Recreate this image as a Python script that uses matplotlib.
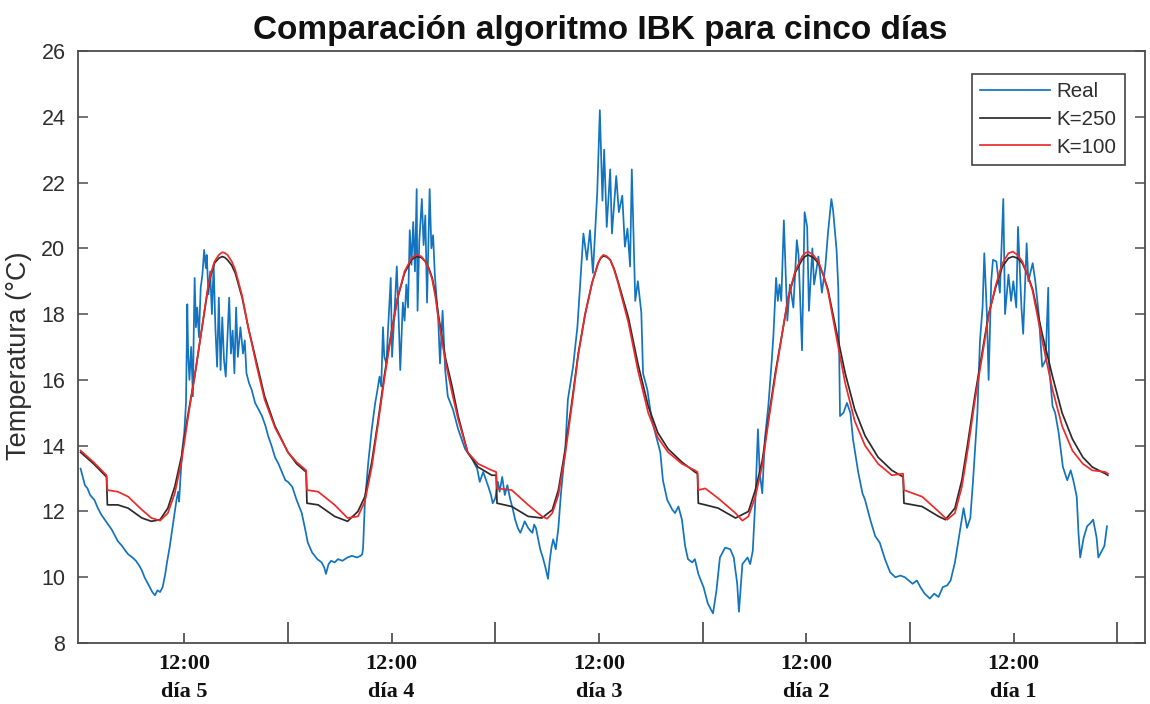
import matplotlib
matplotlib.use("Agg")
import matplotlib.pyplot as plt
from matplotlib.transforms import blended_transform_factory

# ---- texts ----
title = "Comparación algoritmo IBK para cinco días"
y_label = "Temperatura (°C)"
series_names = ["Real", "K=250", "K=100"]
noon_label = "12:00"
day_labels = ["día 5", "día 4", "día 3", "día 2", "día 1"]

# ---- axes ----
noon_hours = [12, 36, 60, 84, 108]
midnight_hours = [24, 48, 72, 96, 120]
y_ticks = [8, 10, 12, 14, 16, 18, 20, 22, 24, 26]

# ---- measured temperature (hour, °C) ----
real_points = [
    # day 5
    (0.0, 13.3), (0.2, 13.1), (0.5, 12.8), (0.8, 12.7), (1.1, 12.5), (1.6, 12.35), (2.0, 12.1),
    (2.4, 11.9), (2.8, 11.75), (3.2, 11.6), (3.6, 11.45), (4.0, 11.25), (4.3, 11.1), (4.8, 10.95),
    (5.2, 10.8), (5.5, 10.7), (6.0, 10.6), (6.4, 10.5), (6.8, 10.35), (7.1, 10.2), (7.4, 10.0),
    (7.7, 9.85), (8.0, 9.7), (8.3, 9.55), (8.6, 9.45), (8.9, 9.6), (9.2, 9.55), (9.5, 9.7),
    (9.8, 10.1), (10.0, 10.45), (10.3, 10.9), (10.6, 11.45), (10.9, 12.0), (11.1, 12.35),
    (11.3, 12.6), (11.4, 12.3), (11.6, 13.2), (11.8, 13.95), (12.0, 14.4), (12.2, 15.3),
    (12.35, 18.3), (12.45, 16.8), (12.6, 16.0), (12.8, 17.0), (13.0, 15.5), (13.1, 17.5),
    (13.2, 19.1), (13.35, 17.6), (13.5, 18.2), (13.7, 17.3), (13.9, 18.8), (14.1, 19.2),
    (14.3, 19.95), (14.5, 19.4), (14.6, 19.8), (14.8, 18.6), (15.0, 19.3), (15.2, 18.0),
    (15.4, 19.5), (15.6, 17.6), (15.8, 16.4), (16.0, 18.5), (16.2, 16.3), (16.4, 17.9),
    (16.6, 16.6), (16.8, 16.1), (17.0, 17.3), (17.2, 18.5), (17.4, 16.8), (17.6, 17.5),
    (17.8, 16.2), (18.0, 18.2), (18.2, 16.7), (18.5, 17.6), (18.8, 16.8), (19.0, 17.2),
    (19.2, 16.2), (19.5, 15.9), (19.8, 15.7), (20.2, 15.3), (20.6, 15.1), (21.0, 14.9),
    (21.4, 14.6), (21.7, 14.3), (22.1, 14.0), (22.5, 13.65), (22.9, 13.45), (23.3, 13.2),
    (23.7, 12.95),
    # day 4
    (24.0, 12.9), (24.5, 12.75), (25.0, 12.35), (25.6, 11.95), (26.0, 11.45), (26.3, 11.05),
    (26.8, 10.75), (27.4, 10.55), (27.9, 10.45), (28.2, 10.3), (28.4, 10.1), (28.7, 10.4),
    (29.0, 10.5), (29.4, 10.45), (29.8, 10.55), (30.3, 10.5), (30.9, 10.6), (31.4, 10.65),
    (32.0, 10.6), (32.4, 10.65), (32.6, 10.7), (32.7, 10.9), (32.9, 12.25), (33.3, 13.5),
    (33.7, 14.5), (34.1, 15.3), (34.3, 15.6), (34.6, 16.1), (34.8, 15.8), (35.0, 17.6),
    (35.15, 16.7), (35.4, 16.5), (35.6, 17.6), (35.9, 19.1), (36.05, 16.7), (36.3, 17.9),
    (36.6, 19.45), (36.8, 18.0), (37.0, 16.3), (37.3, 18.35), (37.5, 17.8), (37.7, 18.9),
    (37.9, 18.2), (38.1, 20.55), (38.3, 19.5), (38.5, 20.8), (38.7, 19.3), (38.9, 21.8),
    (39.0, 18.1), (39.2, 20.2), (39.5, 21.5), (39.7, 20.1), (39.9, 21.0), (40.1, 18.35),
    (40.4, 21.8), (40.6, 20.0), (40.8, 20.4), (41.0, 19.2), (41.2, 18.5), (41.4, 17.8),
    (41.6, 16.5), (41.9, 18.1), (42.2, 16.3), (42.5, 15.5), (42.8, 15.3), (43.1, 15.1),
    (43.4, 14.8), (43.7, 14.5), (44.1, 14.2), (44.5, 13.9), (44.9, 13.75), (45.3, 13.6),
    (45.6, 13.45), (45.9, 13.3), (46.2, 12.9), (46.6, 13.2), (47.0, 12.9), (47.2, 12.75),
    (47.5, 12.5), (47.7, 12.25),
    # day 3
    (48.0, 12.4), (48.3, 12.9), (48.5, 12.6), (48.8, 13.05), (49.1, 12.5), (49.4, 12.8),
    (49.7, 12.4), (50.0, 12.1), (50.3, 11.75), (50.6, 11.5), (50.9, 11.35), (51.2, 11.55),
    (51.4, 11.7), (51.8, 11.5), (52.1, 11.4), (52.3, 11.35), (52.5, 11.6), (52.7, 11.5),
    (53.0, 11.1), (53.2, 10.85), (53.5, 10.6), (53.8, 10.3), (54.1, 9.95), (54.3, 10.5),
    (54.5, 10.9), (54.7, 11.15), (55.0, 10.85), (55.3, 11.5), (55.6, 12.55), (56.1, 13.9),
    (56.4, 15.4), (57.0, 16.4), (57.5, 17.6), (57.8, 18.8), (58.2, 20.45), (58.6, 19.65),
    (58.96, 20.55), (59.3, 19.25), (59.8, 21.7), (60.1, 24.2), (60.4, 21.45), (60.6, 23.0),
    (60.9, 20.65), (61.3, 22.4), (61.5, 20.45), (62.0, 22.2), (62.3, 21.1), (62.7, 21.6),
    (63.0, 20.05), (63.3, 20.6), (63.6, 19.45), (63.8, 22.4), (64.2, 18.4), (64.5, 19.0),
    (64.9, 18.05), (65.1, 16.2), (65.6, 15.7), (66.1, 14.8), (66.7, 14.2), (67.1, 13.8),
    (67.4, 12.95), (67.9, 12.35), (68.5, 12.05), (68.8, 11.95), (69.2, 12.15), (69.6, 11.75),
    (69.97, 10.95), (70.3, 10.55), (70.8, 10.45), (71.1, 10.55), (71.5, 10.1),
    # day 2
    (72.1, 9.7), (72.6, 9.2), (73.2, 8.9), (73.6, 9.6), (74.0, 10.6), (74.6, 10.9),
    (75.2, 10.85), (75.6, 10.6), (76.0, 9.8), (76.2, 8.95), (76.6, 10.4), (77.2, 10.6),
    (77.5, 10.4), (77.8, 10.8), (78.1, 12.35), (78.4, 14.5), (78.6, 13.2), (78.9, 12.55),
    (79.2, 14.2), (79.6, 15.2), (80.0, 16.6), (80.2, 17.4), (80.5, 19.1), (80.7, 18.4),
    (80.9, 18.9), (81.1, 18.4), (81.4, 20.85), (81.8, 17.8), (82.1, 18.9), (82.5, 18.2),
    (82.9, 20.25), (83.1, 19.8), (83.5, 16.9), (83.8, 21.1), (84.1, 20.65), (84.3, 18.1),
    (84.7, 20.0), (84.9, 18.9), (85.4, 19.75), (85.8, 18.65), (86.2, 19.45), (86.5, 20.45),
    (86.9, 21.5), (87.1, 21.15), (87.5, 19.95), (87.7, 18.8), (87.9, 14.9), (88.3, 15.0),
    (88.7, 15.3), (89.1, 15.0), (89.4, 14.2), (90.0, 13.2), (90.5, 12.55), (90.8, 12.35),
    (91.4, 11.75), (91.97, 11.25), (92.5, 11.05), (93.1, 10.55), (93.7, 10.15), (94.3, 10.0),
    (94.9, 10.05), (95.4, 10.0),
    # day 1
    (96.3, 9.8), (96.8, 9.9), (97.2, 9.7), (97.7, 9.5), (98.3, 9.35), (98.8, 9.5), (99.3, 9.4),
    (99.8, 9.7), (100.3, 9.75), (100.7, 9.9), (101.2, 10.45), (101.8, 11.45), (102.2, 12.1),
    (102.6, 11.5), (102.98, 11.8), (103.3, 12.95), (103.8, 15.0), (104.1, 17.2), (104.4, 18.2),
    (104.6, 19.85), (104.9, 18.0), (105.1, 16.0), (105.4, 19.0), (105.6, 19.65), (106.0, 19.6),
    (106.4, 18.65), (106.8, 21.5), (107.0, 18.0), (107.4, 19.2), (107.7, 18.4), (107.96, 19.0),
    (108.3, 18.2), (108.5, 20.65), (108.9, 18.2), (109.1, 17.4), (109.5, 20.15), (109.7, 19.0),
    (110.2, 19.55), (110.5, 19.0), (110.9, 18.0), (111.3, 16.4), (111.7, 16.6), (112.0, 18.8),
    (112.1, 16.4), (112.5, 15.2), (112.8, 15.0), (113.2, 14.4), (113.7, 13.35), (114.2, 12.95),
    (114.6, 13.25), (114.9, 12.95), (115.3, 12.45), (115.5, 11.35), (115.7, 10.6), (116.1, 11.2),
    (116.5, 11.55), (116.9, 11.65), (117.2, 11.75), (117.6, 11.2), (117.8, 10.6), (118.3, 10.85),
    (118.5, 10.95), (118.8, 11.55),
]

# ---- IBK estimate, K=250 (hour, °C) ----
k250_points = [
    (0.0, 13.8), (1.5, 13.45), (3.0, 13.05), (3.1, 12.2), (4.3, 12.2), (5.5, 12.1), (7.1, 11.8),
    (8.2, 11.7), (9.2, 11.75), (10.1, 12.1), (10.9, 12.75), (11.7, 13.7), (12.4, 14.9),
    (13.2, 16.1), (14.0, 17.5), (14.7, 18.7), (15.1, 19.2), (15.5, 19.55), (16.0, 19.7),
    (16.4, 19.75), (16.7, 19.72), (17.0, 19.65), (17.5, 19.48), (17.9, 19.25), (18.7, 18.5),
    (19.4, 17.6), (20.4, 16.5), (21.3, 15.5), (22.5, 14.6), (24.0, 13.8), (25.0, 13.45),
    (26.1, 13.2), (26.2, 12.25), (27.5, 12.2), (29.4, 11.85), (30.9, 11.7), (32.1, 12.0),
    (32.9, 12.45), (33.7, 13.5), (34.4, 14.7), (35.2, 16.2), (36.0, 17.5), (36.7, 18.5),
    (37.5, 19.25), (38.3, 19.65), (38.65, 19.72), (39.0, 19.75), (39.45, 19.72), (39.9, 19.6),
    (40.3, 19.4), (40.7, 19.1), (41.05, 18.65), (41.4, 18.0), (42.2, 16.7), (43.0, 15.8),
    (43.7, 14.9), (44.8, 13.8), (46.0, 13.35), (47.6, 13.1), (48.1, 13.1), (48.2, 12.25),
    (49.9, 12.15), (51.8, 11.85), (53.4, 11.8), (54.6, 12.05), (55.3, 12.65), (56.1, 13.9),
    (56.9, 15.4), (57.6, 16.8), (58.4, 18.0), (59.2, 18.95), (59.9, 19.55), (60.2, 19.7),
    (60.5, 19.77), (60.9, 19.74), (61.3, 19.65), (61.75, 19.38), (62.2, 19.0), (63.4, 17.9),
    (64.5, 16.5), (65.7, 15.2), (66.8, 14.4), (68.0, 13.9), (69.6, 13.5), (71.1, 13.2),
    (71.4, 13.15), (71.5, 12.25), (72.3, 12.2), (73.8, 12.1), (75.8, 11.8), (77.3, 12.0),
    (78.1, 12.65), (78.9, 13.55), (79.6, 14.8), (80.4, 16.2), (81.2, 17.4), (81.9, 18.5),
    (82.7, 19.25), (83.5, 19.65), (83.85, 19.75), (84.2, 19.8), (84.8, 19.72), (85.4, 19.55),
    (85.95, 19.2), (86.5, 18.75), (87.7, 17.2), (88.5, 16.2), (89.6, 15.1), (90.8, 14.3),
    (92.3, 13.65), (93.9, 13.25), (95.2, 13.05), (95.3, 12.25), (97.4, 12.15), (99.3, 11.85),
    (100.1, 11.75), (101.2, 12.1), (102.0, 12.95), (102.7, 14.1), (103.5, 15.5), (104.4, 16.9),
    (105.1, 18.0), (105.9, 18.8), (106.7, 19.45), (107.4, 19.7), (107.9, 19.75),
    (108.45, 19.7), (109.0, 19.55), (109.6, 19.2), (110.2, 18.75), (111.3, 17.4),
    (112.5, 16.1), (113.6, 15.0), (114.8, 14.2), (116.0, 13.65), (117.1, 13.35),
    (118.6, 13.15), (118.9, 13.1),
]

# ---- IBK estimate, K=100 (hour, °C) ----
k100_points = [
    (0.0, 13.85), (1.5, 13.5), (3.0, 13.1), (3.1, 12.65), (4.3, 12.6), (5.5, 12.45), (7.1, 12.05),
    (8.2, 11.8), (9.2, 11.72), (10.1, 11.95), (10.9, 12.55), (11.7, 13.55), (12.4, 14.8),
    (13.2, 16.1), (14.0, 17.5), (14.7, 18.75), (15.1, 19.25), (15.5, 19.6), (16.0, 19.8),
    (16.4, 19.88), (16.7, 19.86), (17.0, 19.8), (17.5, 19.6), (17.9, 19.35), (18.7, 18.55),
    (19.4, 17.6), (20.4, 16.4), (21.3, 15.4), (22.5, 14.55), (24.0, 13.8), (25.0, 13.5),
    (26.1, 13.25), (26.2, 12.65), (27.5, 12.6), (29.4, 12.2), (30.9, 11.8), (32.1, 11.85),
    (32.9, 12.3), (33.7, 13.35), (34.4, 14.6), (35.2, 16.1), (36.0, 17.45), (36.7, 18.5),
    (37.5, 19.3), (38.3, 19.7), (38.65, 19.77), (39.0, 19.8), (39.45, 19.75), (39.9, 19.6),
    (40.3, 19.38), (40.7, 19.05), (41.05, 18.55), (41.4, 17.9), (42.2, 16.6), (43.0, 15.6),
    (43.7, 14.8), (44.8, 13.8), (46.0, 13.45), (47.6, 13.25), (48.1, 13.2), (48.2, 12.7),
    (49.9, 12.65), (51.8, 12.2), (53.4, 11.85), (54.0, 11.78), (54.6, 11.95), (55.3, 12.5),
    (56.1, 13.75), (56.9, 15.3), (57.6, 16.75), (58.4, 18.0), (59.2, 18.95), (59.9, 19.55),
    (60.2, 19.72), (60.5, 19.8), (60.9, 19.76), (61.3, 19.65), (61.75, 19.35), (62.2, 18.95),
    (63.4, 17.75), (64.5, 16.3), (65.7, 15.0), (66.8, 14.25), (68.0, 13.8), (69.6, 13.45),
    (71.1, 13.25), (71.4, 13.2), (71.5, 12.65), (72.3, 12.7), (73.8, 12.4), (75.8, 11.95),
    (76.6, 11.72), (77.3, 11.85), (78.1, 12.45), (78.9, 13.4), (79.6, 14.7), (80.4, 16.1),
    (81.2, 17.4), (81.9, 18.5), (82.7, 19.3), (83.5, 19.75), (83.85, 19.85), (84.2, 19.9),
    (84.8, 19.8), (85.4, 19.6), (85.95, 19.2), (86.5, 18.7), (87.7, 17.0), (88.5, 15.9),
    (89.6, 14.75), (90.8, 14.0), (92.3, 13.45), (93.9, 13.1), (95.2, 13.15), (95.3, 12.65),
    (97.4, 12.45), (99.3, 12.0), (100.3, 11.75), (101.2, 11.95), (102.0, 12.75), (102.7, 13.9),
    (103.5, 15.35), (104.4, 16.8), (105.1, 17.95), (105.9, 18.85), (106.7, 19.55),
    (107.4, 19.85), (107.9, 19.9), (108.45, 19.8), (109.0, 19.6), (109.6, 19.2),
    (110.2, 18.7), (111.3, 17.2), (112.5, 15.7), (113.6, 14.6), (114.8, 13.85), (116.0, 13.45),
    (117.1, 13.25), (118.6, 13.2), (118.9, 13.15),
]

series_points = [real_points, k250_points, k100_points]
series_colors = ["#1273be", "#2b2b2b", "#ee2a2a"]
series_widths = [1.25, 1.25, 1.25]

plt.rcParams["font.family"] = ["Liberation Sans", "DejaVu Sans"]

W, H = 1150, 704
fig = plt.figure(figsize=(W / 100, H / 100), dpi=100)
ax_left, ax_right, ax_top, ax_bottom = 78, 1145, 51, 643
ax = fig.add_axes([ax_left / W, 1 - ax_bottom / H,
                   (ax_right - ax_left) / W, (ax_bottom - ax_top) / H])

for pts, name, col, lw in zip(series_points, series_names, series_colors, series_widths):
    xs = [p[0] for p in pts]
    ys = [p[1] for p in pts]
    ax.plot(xs, ys, color=col, lw=lw, label=name, solid_joinstyle="round")

ax.set_xlim(-0.3, 123.2)
ax.set_ylim(8, 26)

spine_col = "#4d4d4d"
for s in ax.spines.values():
    s.set_color(spine_col)
    s.set_linewidth(1.3)

ax.set_yticks(y_ticks)
ax.tick_params(axis="y", which="major", direction="in", length=7, width=1.1,
               colors=spine_col, labelcolor="#2e2e2e", labelsize=15.5, pad=9,
               left=True, right=True)

# midnight ticks (long) and noon ticks (short), drawn inward from the bottom spine
ax.set_xticks(midnight_hours)
ax.set_xticks(noon_hours, minor=True)
ax.tick_params(axis="x", which="major", direction="in", length=15, width=1.1,
               colors="#333333", labelbottom=False, top=False)
ax.tick_params(axis="x", which="minor", direction="in", length=7.5, width=1.1,
               colors="#333333", labelbottom=False, top=False)

trans = blended_transform_factory(ax.transData, ax.transAxes)
serif = ["Liberation Serif", "DejaVu Serif"]
for h, day in zip(noon_hours, day_labels):
    ax.text(h, -0.036, noon_label, transform=trans, ha="center", va="center",
            family=serif, fontweight="bold", fontsize=16, color="#111111")
    ax.text(h, -0.082, day, transform=trans, ha="center", va="center",
            family=serif, fontweight="bold", fontsize=16, color="#111111")

ax.set_ylabel(y_label, fontsize=19.5, color="#2e2e2e")
ax.yaxis.set_label_coords(-0.043, 0.486)
ax.set_title(title, fontsize=24, fontweight="bold", color="#111111", pad=9, x=0.4897)

leg = ax.legend(loc="upper right", bbox_to_anchor=(0.981, 0.961), borderaxespad=0,
                fontsize=14.8, handlelength=3.4, handletextpad=0.3, borderpad=0.4,
                labelspacing=0.42, fancybox=False, framealpha=1)
leg.get_frame().set_edgecolor("#444444")
leg.get_frame().set_linewidth(1.2)
for t in leg.get_texts():
    t.set_color("#2e2e2e")

fig.savefig("out.png", dpi=100)
